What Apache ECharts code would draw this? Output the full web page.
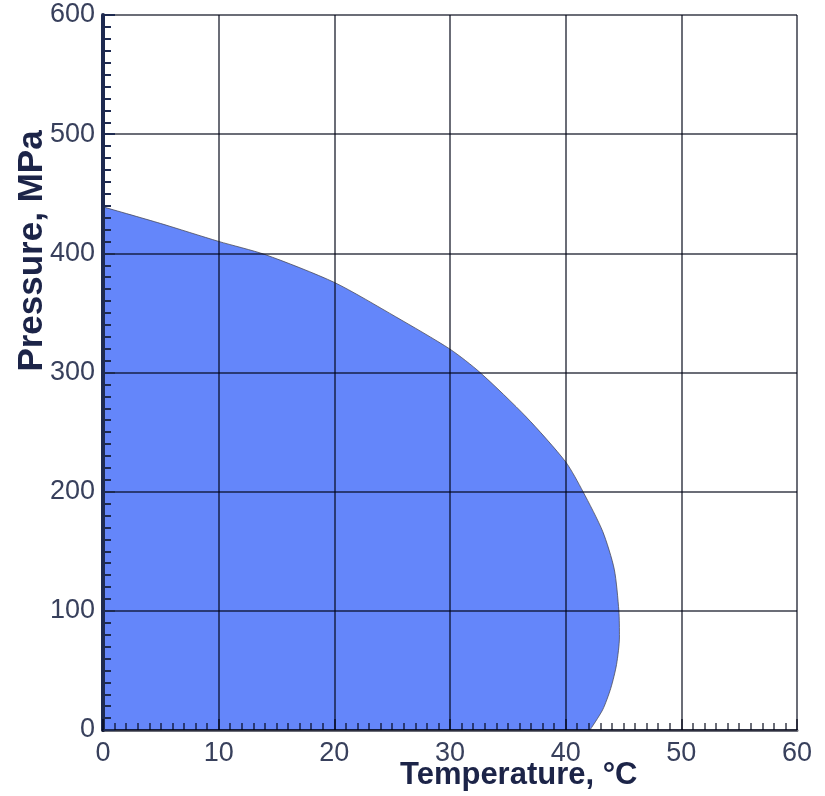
<!DOCTYPE html>
<html>
<head>
<meta charset="utf-8">
<script src="https://cdn.jsdelivr.net/npm/echarts@6/dist/echarts.min.js"></script>
<style>
html,body{margin:0;padding:0;background:#fff;}
#chart{width:825px;height:796px;}
</style>
</head>
<body>
<div id="chart"></div>
<script>
// Boundary of the filled region (Temperature °C, Pressure MPa)
const temps     = [0,   5,   10,  14,  20,    25.3,  30,    32.6, 36.6,  40,  41.5, 43.2,  44.2, 44.6, 44.65, 44.4, 43.9, 43.2, 42.1];
const pressures = [439, 425, 410, 399, 375.6, 346.8, 319.6, 300,  262.6, 225, 200,  166.7, 135,  100,  78,    55,   35,   17,   0];
const xTicks = [0, 10, 20, 30, 40, 50, 60];
const yTicks = [0, 100, 200, 300, 400, 500, 600];

const chart = echarts.init(document.getElementById('chart'), null, {renderer: 'canvas'});
const FONT = '"Liberation Sans", Arial, sans-serif';
const GRIDC = 'rgba(0,4,20,0.58)';

chart.setOption({
  animation: false,
  backgroundColor: '#fff',
  grid: {left: 103, right: 28, top: 15, bottom: 66, containLabel: false},
  xAxis: {
    type: 'value', min: xTicks[0], max: xTicks[xTicks.length - 1], interval: 10, z: 5,
    axisLine: {show: true, onZero: false, lineStyle: {color: GRIDC, width: 3}},
    axisTick: {show: true, inside: true, length: 11, lineStyle: {color: GRIDC, width: 2}},
    minorTick: {show: true, splitNumber: 10, length: 7, lineStyle: {color: GRIDC, width: 2}},
    splitLine: {show: true, lineStyle: {color: GRIDC, width: 2}},
    axisLabel: {color: '#38405c', fontFamily: FONT, fontSize: 27, margin: 10}
  },
  yAxis: {
    type: 'value', min: yTicks[0], max: yTicks[yTicks.length - 1], interval: 100, z: 5,
    axisLine: {show: true, onZero: false, lineStyle: {color: '#1e2a50', width: 4}},
    axisTick: {show: true, inside: true, length: 12, lineStyle: {color: '#1e2a50', width: 2}},
    minorTick: {show: true, splitNumber: 10, length: 8, lineStyle: {color: '#1e2a50', width: 2}},
    splitLine: {show: true, lineStyle: {color: GRIDC, width: 2}},
    axisLabel: {color: '#38405c', fontFamily: FONT, fontSize: 27, margin: 8}
  },
  graphic: [
    {type: 'text', left: 400, top: 760,
     style: {text: 'Temperature, °C', font: 'bold 31px ' + FONT, fill: '#1c2448'}},
    {type: 'text', x: 32, y: 251, rotation: Math.PI / 2,
     style: {text: 'Pressure, MPa', font: 'bold 35px ' + FONT, fill: '#1c2448', align: 'center', verticalAlign: 'middle'}}
  ],
  series: [{
    type: 'line',
    data: temps.map((t, i) => [t, pressures[i]]),
    z: 2,
    smooth: 0.25,
    showSymbol: false,
    symbol: 'none',
    lineStyle: {color: 'rgba(70,70,80,0.75)', width: 1},
    areaStyle: {color: '#6486fa', opacity: 1}
  }]
});
</script>
</body>
</html>
